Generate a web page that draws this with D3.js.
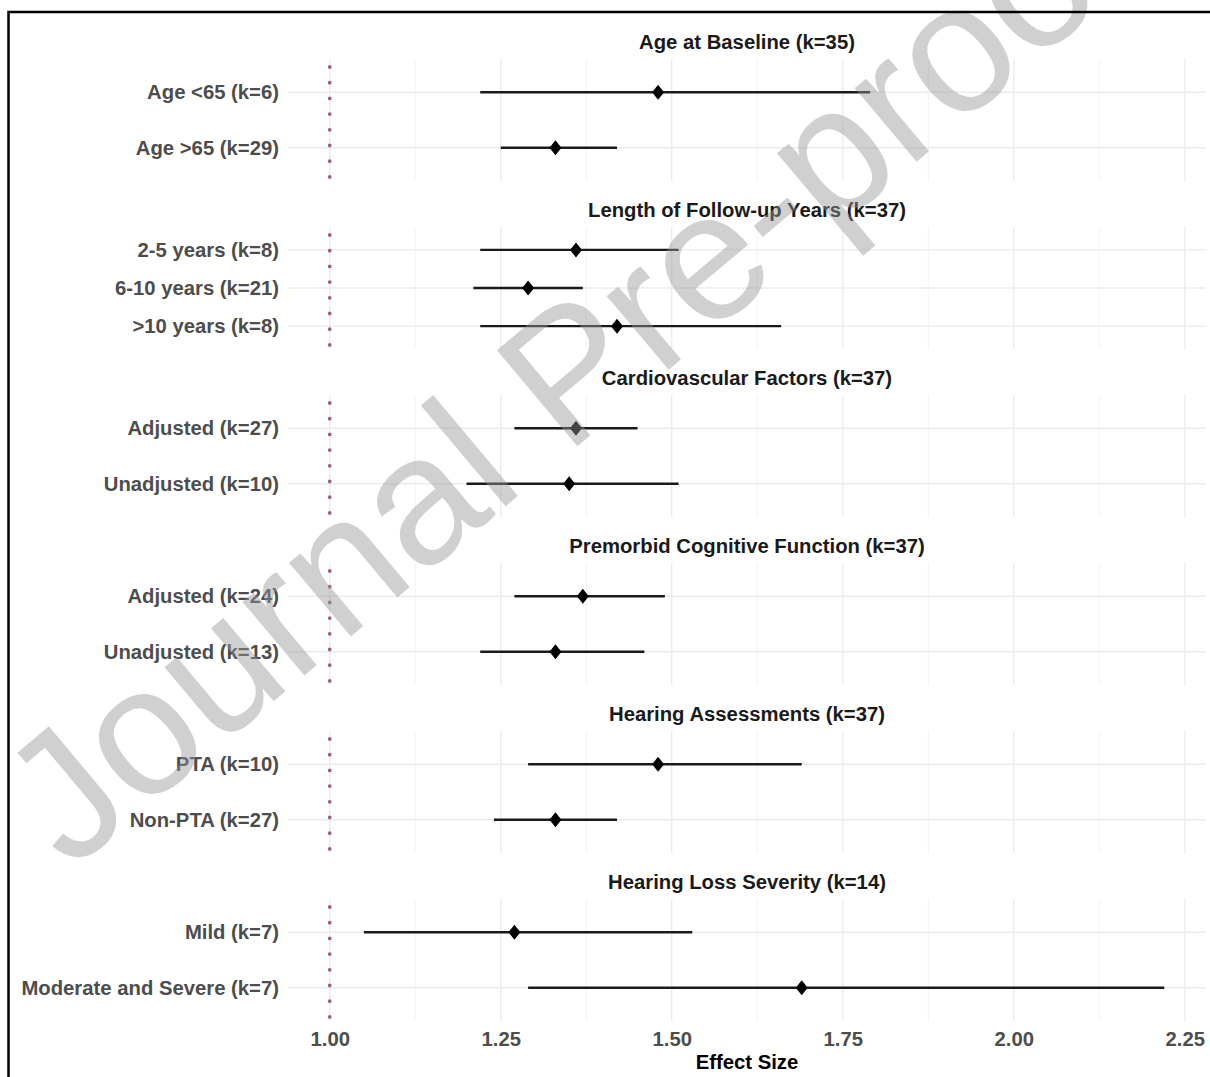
<!DOCTYPE html>
<html>
<head>
<meta charset="utf-8">
<script src="https://cdn.jsdelivr.net/npm/d3@7"></script>
<style>
  body { margin: 0; background: #fff; }
  text { font-family: "Liberation Sans", Arial, sans-serif; }
</style>
</head>
<body>
<div id="chart"></div>
<script>
// subgroup forest plot data
const groups = [
    "Age at Baseline (k=35)",
    "Length of Follow-up Years (k=37)",
    "Cardiovascular Factors (k=37)",
    "Premorbid Cognitive Function (k=37)",
    "Hearing Assessments (k=37)",
    "Hearing Loss Severity (k=14)"
];
const labels = [
    "Age <65 (k=6)", "Age >65 (k=29)",
    "2-5 years (k=8)", "6-10 years (k=21)", ">10 years (k=8)",
    "Adjusted (k=27)", "Unadjusted (k=10)",
    "Adjusted (k=24)", "Unadjusted (k=13)",
    "PTA (k=10)", "Non-PTA (k=27)",
    "Mild (k=7)", "Moderate and Severe (k=7)"
];
const groupOf  = [0, 0, 1, 1, 1, 2, 2, 3, 3, 4, 4, 5, 5];
const estimate = [1.48, 1.33, 1.36, 1.29, 1.42, 1.36, 1.35, 1.37, 1.33, 1.48, 1.33, 1.27, 1.69];
const lower    = [1.22, 1.25, 1.22, 1.21, 1.22, 1.27, 1.20, 1.27, 1.22, 1.29, 1.24, 1.05, 1.29];
const upper    = [1.79, 1.42, 1.51, 1.37, 1.66, 1.45, 1.51, 1.49, 1.46, 1.69, 1.42, 1.53, 2.22];
const xTicks = [1.00, 1.25, 1.50, 1.75, 2.00, 2.25];
const xMinorTicks = [1.125, 1.375, 1.625, 1.875, 2.125];
const refValue = 1;

var width = 1210, height = 1077;
var panelLeft = 288, panelRight = 1206;
var panelTop0 = 59, panelStep = 168, panelHeight = 122;
var fontSize = 20.3;

var svg = d3.select("#chart").append("svg")
    .attr("width", width)
    .attr("height", height);

// x range like ggplot: data + ref line, 5% padding
var lo = Math.min(refValue, d3.min(lower)), hi = d3.max(upper);
var pad = (hi - lo) * 0.05;
var x = d3.scaleLinear()
    .domain([lo - pad, hi + pad])
    .range([panelLeft, panelRight]);

var rows = labels.map((l, i) => ({
    label: l, group: groupOf[i], est: estimate[i], lo: lower[i], hi: upper[i]
}));

function diamond(cx, cy) {
    var w = 6, h = 7.5;
    return "M" + cx + "," + (cy - h) + "L" + (cx + w) + "," + cy +
        "L" + cx + "," + (cy + h) + "L" + (cx - w) + "," + cy + "Z";
}

groups.forEach(function(title, gi) {
    var top = panelTop0 + gi * panelStep;
    var rowsG = rows.filter(r => r.group === gi);
    var y = d3.scalePoint()
        .domain(rowsG.map(r => r.label))
        .range([top, top + panelHeight])
        .padding(0.6);

    var g = svg.append("g");

    // grid
    g.selectAll(".minor").data(xMinorTicks).enter().append("line")
        .attr("x1", d => x(d)).attr("x2", d => x(d))
        .attr("y1", top).attr("y2", top + panelHeight)
        .attr("stroke", "#f3f3f3").attr("stroke-width", 1);
    g.selectAll(".major").data(xTicks).enter().append("line")
        .attr("x1", d => x(d)).attr("x2", d => x(d))
        .attr("y1", top).attr("y2", top + panelHeight)
        .attr("stroke", "#ebebeb").attr("stroke-width", 1.3);
    g.selectAll(".hgrid").data(rowsG).enter().append("line")
        .attr("x1", panelLeft).attr("x2", panelRight)
        .attr("y1", d => y(d.label)).attr("y2", d => y(d.label))
        .attr("stroke", "#ebebeb").attr("stroke-width", 1.3);

    // reference line at 1
    g.append("line")
        .attr("x1", x(refValue)).attr("x2", x(refValue))
        .attr("y1", top).attr("y2", top + panelHeight)
        .attr("stroke", "#9a6675")
        .attr("stroke-width", 3.8)
        .attr("stroke-linecap", "round")
        .attr("stroke-dasharray", "0,15.7")
        .attr("stroke-dashoffset", 7.7);

    // confidence intervals
    g.selectAll(".ci").data(rowsG).enter().append("line")
        .attr("x1", d => x(d.lo)).attr("x2", d => x(d.hi))
        .attr("y1", d => y(d.label)).attr("y2", d => y(d.label))
        .attr("stroke", "#1a1a1a").attr("stroke-width", 2.4);

    g.selectAll(".pt").data(rowsG).enter().append("path")
        .attr("d", d => diamond(x(d.est), y(d.label)))
        .attr("fill", "#000");

    // y labels
    var yAxis = g.append("g")
        .attr("transform", "translate(" + panelLeft + ",0)")
        .call(d3.axisLeft(y).tickSize(0).tickPadding(9));
    yAxis.select(".domain").remove();
    yAxis.selectAll("text")
        .attr("font-family", "Liberation Sans, Arial, sans-serif")
        .attr("font-size", fontSize)
        .attr("font-weight", "bold")
        .attr("fill", "#4d4d4d");

    // strip title
    g.append("text")
        .attr("x", (panelLeft + panelRight) / 2)
        .attr("y", top - 10)
        .attr("text-anchor", "middle")
        .attr("font-size", fontSize)
        .attr("font-weight", "bold")
        .attr("fill", "#1a1a1a")
        .text(title);
});

// x axis under the last panel
var axisY = panelTop0 + (groups.length - 1) * panelStep + panelHeight;
var xAxis = svg.append("g")
    .attr("transform", "translate(0," + axisY + ")")
    .call(d3.axisBottom(x).tickValues(xTicks).tickFormat(d3.format(".2f")).tickSize(0).tickPadding(11));
xAxis.select(".domain").remove();
xAxis.selectAll("text")
    .attr("font-family", "Liberation Sans, Arial, sans-serif")
    .attr("font-size", fontSize)
    .attr("font-weight", "bold")
    .attr("fill", "#4d4d4d");

svg.append("text")
    .attr("x", (panelLeft + panelRight) / 2)
    .attr("y", axisY + 48)
    .attr("text-anchor", "middle")
    .attr("font-size", fontSize)
    .attr("font-weight", "bold")
    .attr("fill", "#000")
    .text("Effect Size");

// watermark over the figure
svg.append("text")
    .attr("transform", "translate(70,872) rotate(-40)")
    .attr("font-size", 182)
    .attr("fill", "rgb(150,150,150)")
    .attr("fill-opacity", 0.45)
    .text("Journal Pre-proof");

// frame
svg.append("rect")
    .attr("x", 8.5).attr("y", 12)
    .attr("width", 1300).attr("height", 1200)
    .attr("fill", "none")
    .attr("stroke", "#000")
    .attr("stroke-width", 2.5);
</script>
</body>
</html>
